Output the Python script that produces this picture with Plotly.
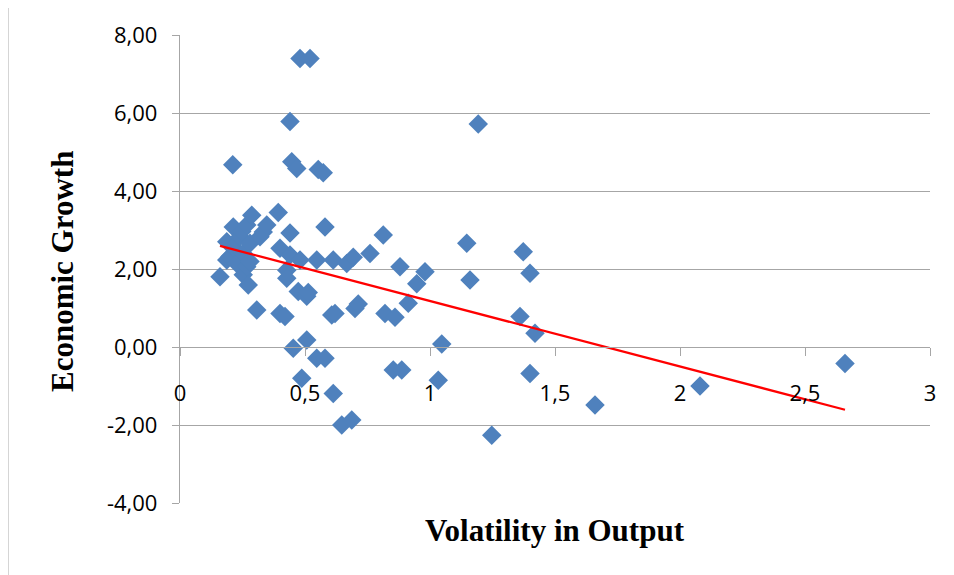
import plotly.graph_objects as go

# Volatility in Output (x) and Economic Growth (y)
volatility = [0.160, 0.187, 0.187, 0.200, 0.211, 0.213, 0.213, 0.227, 0.240, 0.247,
              0.253, 0.253, 0.267, 0.267, 0.273, 0.280, 0.287, 0.280, 0.307, 0.320,
              0.333, 0.347, 0.393, 0.400, 0.400, 0.420, 0.427, 0.427, 0.440, 0.440,
              0.440, 0.447, 0.467, 0.453, 0.480, 0.473, 0.480, 0.487, 0.507, 0.507,
              0.513, 0.520, 0.547, 0.547, 0.553, 0.573, 0.580, 0.580, 0.613, 0.613,
              0.607, 0.620, 0.647, 0.667, 0.687, 0.693, 0.700, 0.713, 0.760, 0.813,
              0.820, 0.853, 0.860, 0.880, 0.887, 0.913, 0.947, 0.980, 1.033, 1.047,
              1.147, 1.160, 1.193, 1.247, 1.360, 1.373, 1.400, 1.400, 1.420, 1.660,
              2.080, 2.660]
growth = [1.80, 2.23, 2.70, 2.32, 4.67, 3.08, 2.57, 2.14, 2.83, 2.96,
          1.85, 2.40, 3.13, 2.06, 1.59, 2.66, 3.38, 2.19, 0.95, 2.83,
          2.95, 3.13, 3.45, 2.53, 0.86, 0.78, 1.97, 1.76, 2.36, 2.92,
          5.78, 4.75, 4.58, -0.03, 2.23, 1.42, 7.40, -0.80, 0.18, 1.30,
          1.40, 7.40, 2.23, -0.29, 4.55, 4.47, -0.29, 3.08, 2.23, -1.19,
          0.82, 0.86, -2.00, 2.14, -1.87, 2.30, 0.99, 1.10, 2.40, 2.87,
          0.86, -0.59, 0.76, 2.06, -0.59, 1.12, 1.62, 1.93, -0.85, 0.08,
          2.66, 1.72, 5.72, -2.26, 0.78, 2.44, 1.89, -0.68, 0.35, -1.49,
          -1.00, -0.42]

# Linear trend line
TREND_INTERCEPT = 2.86
TREND_SLOPE = -1.68

x_ticks = [0, 0.5, 1, 1.5, 2, 2.5, 3]
x_tick_labels = ["0", "0,5", "1", "1,5", "2", "2,5", "3"]
y_ticks = [-4, -2, 0, 2, 4, 6, 8]
y_tick_labels = ["-4,00", "-2,00", "0,00", "2,00", "4,00", "6,00", "8,00"]

trend_x = [min(volatility), max(volatility)]
trend_y = [TREND_INTERCEPT + TREND_SLOPE * v for v in trend_x]

# page body has an 8px margin; compensate so the plot lands where the reference has it
OFF = 8
L, T, PW, PH = 180 - OFF, 35 - OFF, 750, 468
W, H = 954 - OFF, 575 - OFF


def px_x(px):
    return (px - OFF - L) / PW


def px_y(py):
    return (T + PH - (py - OFF)) / PH


fig = go.Figure()
fig.add_trace(go.Scatter(
    x=volatility, y=growth, mode="markers",
    marker=dict(symbol="diamond", size=15, color="#4F81BD", line=dict(width=0)),
    showlegend=False, hoverinfo="x+y"))
fig.add_trace(go.Scatter(
    x=trend_x, y=trend_y, mode="lines",
    line=dict(color="#FF0000", width=2.3), showlegend=False))

grid_col = "#A6A6A6"
tick_font = dict(family="Open Sans, Liberation Sans, sans-serif", size=22, color="#000")
title_font = dict(family="Liberation Serif, Times New Roman, serif", size=31, color="#000")

fig.update_layout(
    width=W, height=H,
    margin=dict(l=L, r=W - L - PW, t=T, b=H - T - PH, autoexpand=False),
    paper_bgcolor="white", plot_bgcolor="white",
    xaxis=dict(range=[0, 3], tickvals=x_ticks, ticktext=x_tick_labels, showgrid=False,
               zeroline=False, showline=True, linecolor=grid_col, linewidth=1.3,
               ticks="outside", ticklen=8, tickcolor=grid_col, tickwidth=1.3,
               anchor="free", position=px_y(347), ticklabelstandoff=18,
               tickfont=tick_font),
    yaxis=dict(range=[-4, 8], tickvals=y_ticks, ticktext=y_tick_labels, showgrid=True,
               gridcolor=grid_col, gridwidth=1.3, zeroline=False, showline=True,
               linecolor=grid_col, linewidth=1.3, ticks="outside", ticklen=7,
               tickcolor=grid_col, tickwidth=1.3, ticklabelstandoff=10,
               tickfont=tick_font),
    annotations=[
        dict(text="<b>Volatility in Output</b>", xref="paper", yref="paper",
             x=px_x(555), y=px_y(530), xanchor="center", yanchor="middle",
             showarrow=False, font=title_font),
        dict(text="<b>Economic Growth</b>", xref="paper", yref="paper",
             x=px_x(62), y=px_y(272), xanchor="center", yanchor="middle",
             textangle=-90, showarrow=False, font=title_font),
    ],
    shapes=[dict(type="rect", xref="paper", yref="paper",
                 x0=px_x(8), x1=px_x(950), y0=px_y(600), y1=px_y(5),
                 line=dict(color="#BFBFBF", width=1.3), layer="below")],
)

fig.write_html("out.html")
